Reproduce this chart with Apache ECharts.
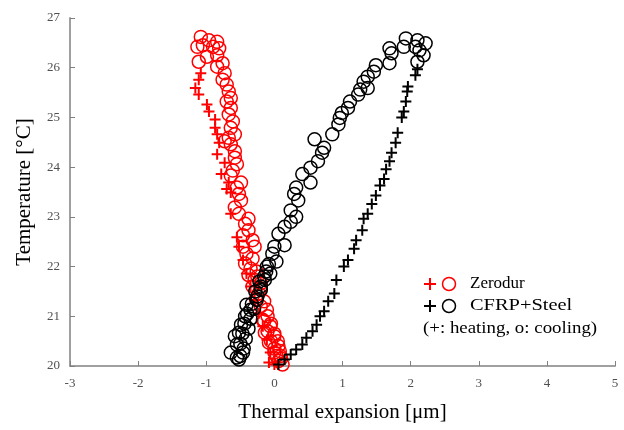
<!DOCTYPE html>
<html>
<head>
<meta charset="utf-8">
<script src="https://cdn.jsdelivr.net/npm/echarts@6/dist/echarts.min.js"></script>
<style>html,body{margin:0;padding:0;background:#fff}#c{width:624px;height:430px}</style>
</head>
<body>
<div id="c"></div>
<script>
var xTicks = [-3, 5, 1];
var yTicks = [20, 27, 1];
var seriesNames = ['Zerodur heating', 'Zerodur cooling', 'CFRP+Steel heating', 'CFRP+Steel cooling'];
var legendLabels = ['Zerodur', 'CFRP+Steel', '(+: heating, o: cooling)'];

var zerodurHeating = [
  [-1.08,25.89],[-1.11,25.76],[-1.16,25.59],[-1.11,25.46],[-0.99,25.26],[-0.96,25.12],
  [-0.87,24.96],[-0.87,24.79],[-0.84,24.66],[-0.81,24.49],[-0.84,24.26],[-0.73,24.09],
  [-0.78,23.86],[-0.67,23.69],[-0.70,23.56],[-0.64,23.49],[-0.64,23.06],[-0.55,22.59],
  [-0.52,22.40],[-0.46,22.13],[-0.41,21.86],[-0.35,21.60],[-0.29,21.33],[-0.23,21.06],
  [-0.17,20.80],[-0.11,20.53],[-0.06,20.27],[-0.08,20.07],[0.00,20.03]
];
var zerodurCooling = [
  [-1.08,26.62],[-0.96,26.55],[-0.84,26.52],[-1.13,26.42],[-1.05,26.45],[-0.90,26.42],
  [-0.81,26.39],[-1.11,26.12],[-0.99,26.22],[-0.84,26.25],[-0.76,26.09],[-0.84,26.02],
  [-0.73,25.89],[-0.76,25.76],[-0.70,25.66],[-0.67,25.52],[-0.64,25.39],[-0.70,25.32],
  [-0.64,25.19],[-0.67,25.06],[-0.61,24.92],[-0.64,24.79],[-0.58,24.66],[-0.67,24.59],
  [-0.73,24.52],[-0.64,24.46],[-0.58,24.32],[-0.58,24.19],[-0.55,24.06],[-0.61,23.93],
  [-0.64,23.83],[-0.49,23.69],[-0.55,23.59],[-0.52,23.46],[-0.49,23.33],[-0.58,23.19],
  [-0.52,23.06],[-0.38,22.96],[-0.43,22.86],[-0.38,22.73],[-0.46,22.63],[-0.32,22.53],
  [-0.46,22.40],[-0.29,22.40],[-0.41,22.26],[-0.32,22.16],[-0.43,22.06],[-0.35,21.96],
  [-0.26,21.90],[-0.38,21.83],[-0.29,21.73],[-0.20,21.66],[-0.32,21.60],[-0.23,21.46],
  [-0.25,21.80],[-0.20,21.55],[-0.27,21.35],[-0.15,21.30],[-0.20,21.20],[-0.11,21.13],
  [-0.10,21.00],[-0.17,20.93],[-0.15,20.90],[-0.05,20.85],[-0.06,20.80],[-0.10,20.70],
  [-0.14,20.67],[0.00,20.65],[0.00,20.60],[-0.05,20.50],[0.05,20.50],[-0.08,20.47],
  [0.06,20.40],[0.00,20.35],[0.08,20.30],[0.00,20.27],[0.09,20.20],[0.03,20.20],
  [0.10,20.15],[0.06,20.10],[0.12,20.03]
];
var cfrpHeating = [
  [0.00,19.97],[0.06,20.03],[0.15,20.13],[0.24,20.23],[0.32,20.33],[0.41,20.43],
  [0.47,20.57],[0.56,20.70],[0.62,20.83],[0.67,21.00],[0.73,21.10],[0.79,21.30],
  [0.88,21.46],[0.91,21.73],[1.02,22.00],[1.08,22.13],[1.17,22.36],[1.20,22.53],
  [1.29,22.73],[1.31,22.96],[1.37,23.06],[1.43,23.26],[1.49,23.43],[1.55,23.63],
  [1.61,23.76],[1.64,23.96],[1.69,24.12],[1.72,24.29],[1.78,24.49],[1.81,24.69],
  [1.87,25.00],[1.90,25.12],[1.93,25.32],[1.95,25.52],[1.96,25.62],[2.07,25.85],
  [2.10,25.97]
];
var cfrpCooling = [
  [1.93,26.59],[2.10,26.55],[2.22,26.49],[2.07,26.42],[1.90,26.42],[1.69,26.39],
  [1.72,26.29],[2.13,26.35],[2.19,26.25],[2.10,26.12],[1.69,26.09],[1.49,26.05],
  [1.46,25.92],[1.37,25.82],[1.31,25.72],[1.37,25.59],[1.26,25.56],[1.23,25.46],
  [1.11,25.32],[1.08,25.19],[0.99,25.09],[0.96,24.99],[0.94,24.86],[0.85,24.66],
  [0.59,24.56],[0.73,24.39],[0.70,24.29],[0.64,24.12],[0.53,23.99],[0.41,23.86],
  [0.53,23.69],[0.32,23.59],[0.29,23.46],[0.35,23.33],[0.24,23.13],[0.32,23.00],
  [0.24,22.90],[0.15,22.80],[0.06,22.66],[0.15,22.43],[0.00,22.40],[-0.03,22.26],
  [0.03,22.10],[-0.11,22.00],[-0.06,21.86],[-0.08,22.05],[-0.12,21.90],[-0.15,21.80],
  [-0.14,21.73],[-0.22,21.70],[-0.20,21.60],[-0.20,21.53],[-0.28,21.50],[-0.25,21.40],
  [-0.26,21.33],[-0.33,21.25],[-0.41,21.23],[-0.30,21.15],[-0.35,21.13],[-0.40,21.05],
  [-0.43,21.00],[-0.35,20.95],[-0.44,20.85],[-0.49,20.83],[-0.38,20.75],[-0.52,20.67],
  [-0.47,20.65],[-0.58,20.60],[-0.42,20.55],[-0.50,20.45],[-0.55,20.43],[-0.45,20.35],
  [-0.64,20.27],[-0.46,20.27],[-0.50,20.20],[-0.55,20.17],[-0.52,20.13]
];

var plusPath = 'path://M5,0 L5,10 M0,5 L10,5';
var serif = 'Liberation Serif';

function plusSeries(name, data, color) {
  return {
    name: name, type: 'scatter', data: data, symbol: plusPath, symbolSize: 11,
    itemStyle: { color: 'transparent', borderColor: color, borderWidth: 2, opacity: 1 },
    emphasis: { disabled: true }, z: 3
  };
}
function circleSeries(name, data, color) {
  return {
    name: name, type: 'scatter', data: data, symbol: 'circle', symbolSize: 13,
    itemStyle: { color: 'transparent', borderColor: color, borderWidth: 1.5, opacity: 1 },
    emphasis: { disabled: true }, z: 3
  };
}

var chart = echarts.init(document.getElementById('c'));
var lx = 423, ly1 = 284, ly2 = 306, ly3 = 329;
function legendMarks(y, color) {
  return [
    { type: 'line', shape: { x1: 424, y1: y, x2: 436, y2: y }, style: { stroke: color, lineWidth: 2 } },
    { type: 'line', shape: { x1: 430, y1: y - 6, x2: 430, y2: y + 6 }, style: { stroke: color, lineWidth: 2 } },
    { type: 'circle', shape: { cx: 449, cy: y, r: 6.5 }, style: { fill: 'none', stroke: color, lineWidth: 1.5 } }
  ];
}
var option = {
  animation: false,
  backgroundColor: '#fff',
  grid: { left: 70, right: 9, top: 18, bottom: 64 },
  xAxis: {
    type: 'value', min: xTicks[0], max: xTicks[1], interval: xTicks[2],
    name: 'Thermal expansion [\u03bcm]', nameLocation: 'middle', nameGap: 36,
    nameTextStyle: { fontFamily: serif, fontSize: 21, color: '#000' },
    axisLine: { show: true, onZero: false, lineStyle: { color: '#a0a0a0', width: 2 } },
    axisTick: { show: true, inside: true, length: 5, lineStyle: { color: '#808080', width: 1 } },
    axisLabel: { fontFamily: serif, fontSize: 13, color: '#505050', margin: 11 },
    splitLine: { show: false }
  },
  yAxis: {
    type: 'value', min: yTicks[0], max: yTicks[1], interval: yTicks[2],
    name: 'Temperature [\u00b0C]', nameLocation: 'middle', nameGap: 35,
    nameTextStyle: { fontFamily: serif, fontSize: 21, color: '#000' },
    axisLine: { show: true, onZero: false, lineStyle: { color: '#a0a0a0', width: 2 } },
    axisTick: { show: true, inside: true, length: 5, lineStyle: { color: '#808080', width: 1 } },
    axisLabel: { fontFamily: serif, fontSize: 13, color: '#505050', margin: 10 },
    splitLine: { show: false }
  },
  graphic: [].concat(
    legendMarks(ly1, '#ff0000'),
    legendMarks(ly2, '#000000'),
    [
      { type: 'text', x: 470, y: ly1 - 9, style: { text: legendLabels[0], fontFamily: serif, fontSize: 17, fill: '#000' } },
      { type: 'text', x: 470, y: ly2 - 9, scaleX: 1.2, style: { text: legendLabels[1], fontFamily: serif, fontSize: 17, fill: '#000' } },
      { type: 'text', x: lx, y: ly3 - 9, scaleX: 1.11, style: { text: legendLabels[2], fontFamily: serif, fontSize: 17, fill: '#000' } }
    ]
  ),
  series: [
    plusSeries(seriesNames[0], zerodurHeating, '#ff0000'),
    circleSeries(seriesNames[1], zerodurCooling, '#ff0000'),
    plusSeries(seriesNames[2], cfrpHeating, '#000000'),
    circleSeries(seriesNames[3], cfrpCooling, '#000000')
  ]
};
chart.setOption(option);
</script>
</body>
</html>
